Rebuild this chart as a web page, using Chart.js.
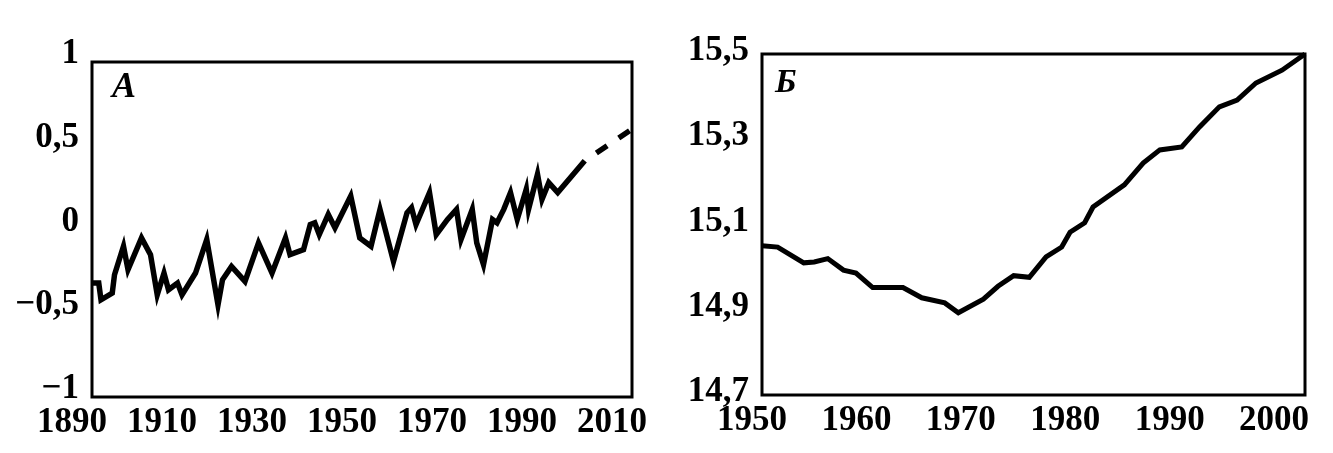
<!DOCTYPE html>
<html>
<head>
<meta charset="utf-8">
<script src="https://cdn.jsdelivr.net/npm/chart.js@4.4.1/dist/chart.umd.min.js"></script>
<style>
    html, body { margin: 0; padding: 0; background: #fff; }
    #wrap { position: relative; width: 1333px; height: 453px; }
    .panel { position: absolute; top: 0; height: 453px; }
    #panelA { left: 0; width: 660px; }
    #panelB { left: 660px; width: 673px; }
</style>
</head>
<body>
<div id="wrap">
    <div class="panel" id="panelA"><canvas id="chartA"></canvas></div>
    <div class="panel" id="panelB"><canvas id="chartB"></canvas></div>
</div>
<script>
/* Panel A : temperature anomaly, 1890 - 2010 */
const yearsA = [1890, 1891.5, 1892, 1894.5, 1895, 1897, 1898, 1901, 1903, 1904.5, 1906, 1907, 1909, 1910,
    1913, 1915.5, 1918, 1919, 1921, 1924, 1927, 1930, 1933, 1934, 1937, 1938.5, 1939.5, 1940.5, 1942.5,
    1944, 1947.5, 1949.5, 1952, 1954, 1957, 1960, 1961, 1962, 1965, 1966.5, 1969, 1971, 1972, 1974.5,
    1975.5, 1977, 1979, 1980, 1981.5, 1983, 1984.5, 1986.5, 1987, 1989, 1990, 1991.5, 1993.5, 1999.5]
const anomalyA = [-0.32, -0.32, -0.42, -0.38, -0.27, -0.10, -0.24, -0.05, -0.15, -0.39, -0.26, -0.36, -0.32, -0.39,
    -0.26, -0.06, -0.45, -0.30, -0.22, -0.31, -0.08, -0.26, -0.05, -0.15, -0.12, 0.03, 0.04, -0.03, 0.09,
    0.01, 0.20, -0.05, -0.10, 0.12, -0.19, 0.10, 0.13, 0.03, 0.22, -0.03, 0.06, 0.12, -0.06, 0.12,
    -0.08, -0.21, 0.06, 0.04, 0.12, 0.22, 0.06, 0.24, 0.12, 0.33, 0.18, 0.28, 0.22, 0.41]
const forecastYearsA = [1999.5, 2010]
const forecastA = [0.41, 0.60]
const xTicksA = [1890, 1910, 1930, 1950, 1970, 1990, 2010]
const yTicksA = [-1, -0.5, 0, 0.5, 1]

/* Panel Б : mean temperature, 1950 - 2002 */
const yearsB = [1950, 1951.5, 1954, 1955, 1956.3, 1957.8, 1959, 1960.6, 1963.5, 1965.3, 1967.5, 1968.8,
    1971.2, 1972.6, 1974.1, 1975.6, 1977.2, 1978.7, 1979.5, 1980.9, 1981.7, 1984.7, 1986.5, 1988.1,
    1990.2, 1991.9, 1993.8, 1995.5, 1997.3, 1999.8, 2002]
const tempB = [15.05, 15.047, 15.01, 15.012, 15.02, 14.993, 14.986, 14.952, 14.952, 14.928, 14.916, 14.893,
    14.925, 14.955, 14.98, 14.976, 15.024, 15.047, 15.082, 15.104, 15.141, 15.193, 15.244, 15.275,
    15.282, 15.329, 15.376, 15.392, 15.432, 15.462, 15.5]
const xTicksB = [1950, 1960, 1970, 1980, 1990, 2000]
const yTicksB = [14.7, 14.9, 15.1, 15.3, 15.5]

const tickFont = { family: "'Liberation Serif', 'Times New Roman', serif", size: 35, weight: "bold" }
const fmt = (v) => String(v).replace(".", ",").replace("-", "\u2212")
const toPoints = (xs, ys) => xs.map((x, i) => ({ x: x, y: ys[i] }))

/* frame around the plot area + panel letter */
const framePlugin = {
    id: "frame",
    afterDatasetsDraw (chart) {
        const { ctx, chartArea } = chart
        ctx.save()
        ctx.strokeStyle = "#000"
        ctx.lineWidth = 3
        ctx.strokeRect(chartArea.left, chartArea.top, chartArea.right - chartArea.left, chartArea.bottom - chartArea.top)
        const letter = chart.options.plugins.letter
        ctx.font = "italic bold " + letter.size + "px 'Liberation Serif', serif"
        ctx.fillStyle = "#000"
        ctx.textBaseline = "alphabetic"
        ctx.fillText(letter.text, chartArea.left + letter.dx, chartArea.top + letter.dy)
        ctx.restore()
    }
}

function makeOptions (xMin, xMax, yMin, yMax, xTicks, yTicks, yWidth, xHeight, padding, xOffset, yOffset, letter) {
    return {
        responsive : true,
        maintainAspectRatio : false,
        animation : false,
        layout : { padding : padding },
        plugins : { legend : { display : false }, tooltip : { enabled : false }, letter : letter },
        scales : {
            x : {
                type : "linear", min : xMin, max : xMax,
                grid : { display : false }, border : { display : false },
                afterBuildTicks : (s) => { s.ticks = xTicks.map(v => ({ value : v })) },
                afterFit : (s) => {
                    s.height = xHeight
                    s.paddingLeft = 0
                    s.paddingRight = 0
                },
                ticks : { color : "#000", font : tickFont, padding : -3, maxRotation : 0, autoSkip : false,
                    labelOffset : xOffset, callback : (v) => String(v) }
            },
            y : {
                min : yMin, max : yMax,
                grid : { display : false }, border : { display : false },
                afterBuildTicks : (s) => { s.ticks = yTicks.map(v => ({ value : v })) },
                afterFit : (s) => {
                    s.width = yWidth
                    s.paddingTop = 0
                    s.paddingBottom = 0
                },
                ticks : { color : "#000", font : tickFont, padding : 5, labelOffset : yOffset, callback : fmt }
            }
        }
    }
}

const chartA = new Chart(document.querySelector("#chartA"), {
    type : "line",
    data : {
        datasets : [{
            data : toPoints(yearsA, anomalyA),
            borderColor : "#000", borderWidth : 5.5, pointRadius : 0, tension : 0, clip : 4
        }, {
            data : toPoints(forecastYearsA, forecastA),
            borderColor : "#000", borderWidth : 5.5, pointRadius : 0, tension : 0, clip : 4,
            borderDash : [13, 14], borderDashOffset : 13
        }]
    },
    options : makeOptions(1890, 2010, -1, 1, xTicksA, yTicksA, 92, 56,
        { left : 0, right : 28, top : 62, bottom : 0 }, -20, -8,
        { text : "A", size : 36, dx : 20, dy : 35 }),
    plugins : [framePlugin]
})

const chartB = new Chart(document.querySelector("#chartB"), {
    type : "line",
    data : {
        datasets : [{
            data : toPoints(yearsB, tempB),
            borderColor : "#000", borderWidth : 5, pointRadius : 0, tension : 0, clip : 4
        }]
    },
    options : makeOptions(1950, 2002, 14.7, 15.5, xTicksB, yTicksB, 102, 58,
        { left : 0, right : 28, top : 54, bottom : 0 }, -10, -3,
        { text : "\u0411", size : 34, dx : 13, dy : 38 }),
    plugins : [framePlugin]
})
</script>
</body>
</html>
